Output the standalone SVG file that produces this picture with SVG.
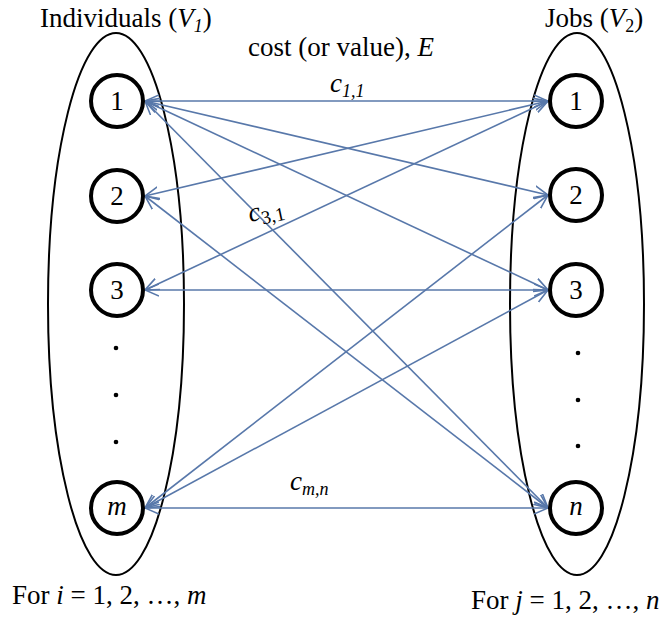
<svg xmlns="http://www.w3.org/2000/svg" width="663" height="617" viewBox="0 0 663 617">
<style>
text{font-family:"Liberation Serif","Times New Roman",Tinos,"DejaVu Serif",serif;fill:#000;}
.lbl{font-size:27px;}
.it{font-style:italic;}
.set{fill:none;stroke:#000;stroke-width:2;}
.node{fill:#fff;stroke:#000;stroke-width:4;}
.nt{font-size:27px;text-anchor:middle;}
.dot{fill:#000;}
.edge{stroke:#5878AA;stroke-width:1.6;fill:none;marker-start:url(#ah);marker-end:url(#ah);}
</style>
<defs>
<marker id="ah" viewBox="0 0 14 14" refX="14" refY="7" markerWidth="14" markerHeight="14" markerUnits="userSpaceOnUse" orient="auto-start-reverse">
<path d="M0,1 L14,7 L0,13" fill="none" stroke="#5878AA" stroke-width="1.6"/>
</marker>
</defs>
<g id="sets">
<ellipse id="setV1" class="set" cx="116" cy="304" rx="68" ry="271"/>
<ellipse id="setV2" class="set" cx="577" cy="304" rx="67" ry="271"/>
</g>
<text class="lbl" x="40" y="27">Individuals (<tspan class="it">V</tspan><tspan class="it" font-size="18" dy="5">1</tspan><tspan dy="-5">)</tspan></text>
<text class="lbl" x="545" y="27">Jobs (<tspan class="it">V</tspan><tspan font-size="18" dy="5">2</tspan><tspan dy="-5">)</tspan></text>
<text class="lbl" x="248" y="56">cost (or value), <tspan class="it">E</tspan></text>
<g id="edges">
<line class="edge" x1="145" y1="101" x2="548" y2="101"/>
<line class="edge" x1="145" y1="101" x2="548" y2="195"/>
<line class="edge" x1="145" y1="101" x2="548" y2="290"/>
<line class="edge" x1="145" y1="101" x2="548" y2="508"/>
<line class="edge" x1="145" y1="196" x2="548" y2="101"/>
<line class="edge" x1="145" y1="196" x2="548" y2="508"/>
<line class="edge" x1="145" y1="290" x2="548" y2="101"/>
<line class="edge" x1="145" y1="290" x2="548" y2="290"/>
<line class="edge" x1="145" y1="508" x2="548" y2="195"/>
<line class="edge" x1="145" y1="508" x2="548" y2="290"/>
<line class="edge" x1="145" y1="508" x2="548" y2="508"/>
</g>
<text class="lbl it" x="330" y="92">c<tspan font-size="18" dy="5">1,1</tspan></text>
<text class="lbl" transform="translate(250,222) rotate(-12)"><tspan class="it">c</tspan><tspan font-size="19" dy="5">3,1</tspan></text>
<text class="lbl it" x="290" y="490">c<tspan font-size="18" dy="5">m,n</tspan></text>
<g id="L1"><circle class="node" cx="117" cy="101" r="26"/><text class="nt" x="117" y="110">1</text></g>
<g id="L2"><circle class="node" cx="117" cy="196" r="26"/><text class="nt" x="117" y="205">2</text></g>
<g id="L3"><circle class="node" cx="117" cy="290" r="26"/><text class="nt" x="117" y="299">3</text></g>
<g id="Lm"><circle class="node" cx="117" cy="508" r="26"/><text class="nt it" x="117" y="515">m</text></g>
<g id="R1"><circle class="node" cx="576" cy="101" r="26"/><text class="nt" x="576" y="110">1</text></g>
<g id="R2"><circle class="node" cx="576" cy="195" r="26"/><text class="nt" x="576" y="204">2</text></g>
<g id="R3"><circle class="node" cx="576" cy="290" r="26"/><text class="nt" x="576" y="299">3</text></g>
<g id="Rn"><circle class="node" cx="576" cy="508" r="26"/><text class="nt it" x="576" y="515">n</text></g>
<g id="dotsL"><circle class="dot" cx="116" cy="348" r="2.3"/><circle class="dot" cx="116" cy="395" r="2.3"/><circle class="dot" cx="116" cy="442" r="2.3"/></g>
<g id="dotsR"><circle class="dot" cx="578" cy="353" r="2.3"/><circle class="dot" cx="578" cy="400" r="2.3"/><circle class="dot" cx="578" cy="446" r="2.3"/></g>
<text class="lbl" x="12" y="604">For <tspan class="it">i</tspan> = 1, 2, …, <tspan class="it">m</tspan></text>
<text class="lbl" x="471" y="609">For <tspan class="it">j</tspan> = 1, 2, …, <tspan class="it">n</tspan></text>
</svg>
